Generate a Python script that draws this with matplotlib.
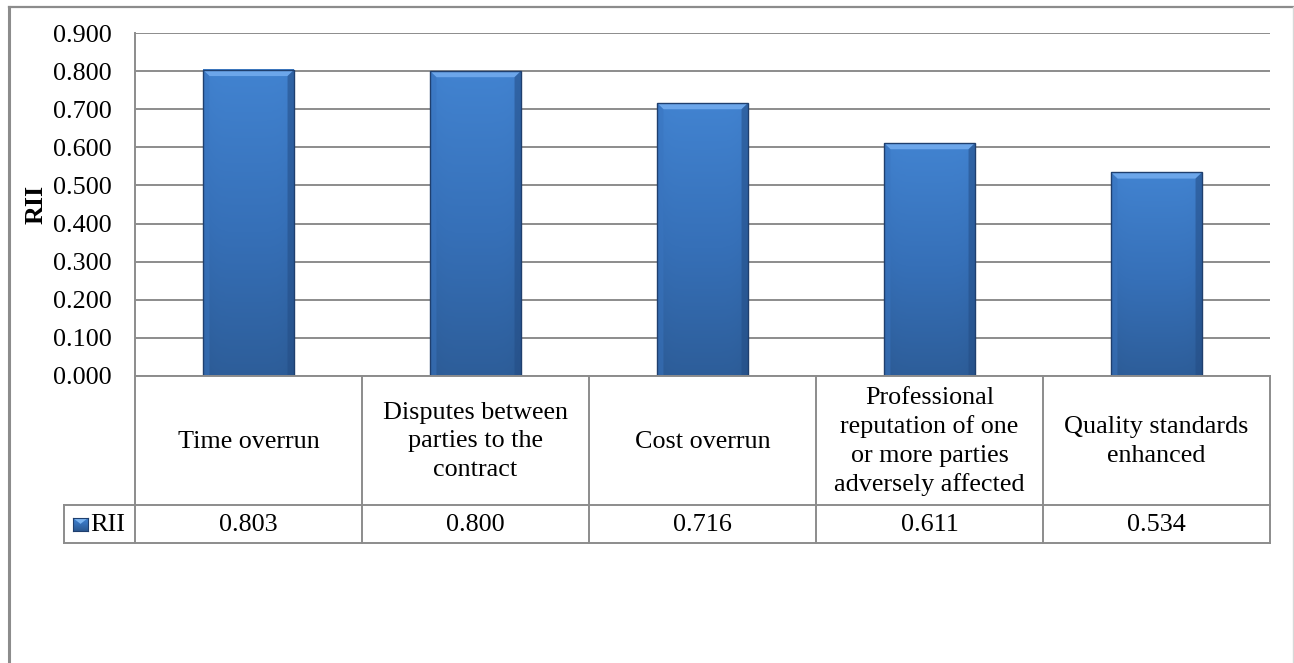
import numpy as np
import matplotlib
matplotlib.use("Agg")
import matplotlib.pyplot as plt
from matplotlib.patches import Rectangle, Polygon
from matplotlib.lines import Line2D
from matplotlib.colors import LinearSegmentedColormap

categories = [
    "Time overrun",
    "Disputes between\nparties to the\ncontract",
    "Cost overrun",
    "Professional\nreputation of one\nor more parties\nadversely affected",
    "Quality standards\nenhanced",
]
rii = [0.803, 0.800, 0.716, 0.611, 0.534]
yticks = [0.0, 0.1, 0.2, 0.3, 0.4, 0.5, 0.6, 0.7, 0.8, 0.9]
series_name = "RII"

plt.rcParams["font.family"] = ["Liberation Serif", "DejaVu Serif"]
FS = 18.8

W, H = 1294, 663
fig = plt.figure(figsize=(W / 100, H / 100), dpi=100)

# plot area in pixel coordinates
px_l, px_r, px_t, px_b = 135, 1270, 33, 376
ax = fig.add_axes([px_l / W, 1 - px_b / H, (px_r - px_l) / W, (px_b - px_t) / H])

n = len(categories)
ax.set_xlim(-0.5, n - 0.5)
ax.set_ylim(0, 0.9)
ax.set_yticks(yticks)
ax.set_yticklabels([f"{v:.3f}" for v in yticks], fontsize=FS)
ax.set_xticks([])
ax.tick_params(axis="y", length=0, pad=17)
ax.yaxis.grid(True, color="#8c8c8c", linewidth=1.4)
ax.set_axisbelow(True)
for s in ["top", "right", "bottom"]:
    ax.spines[s].set_visible(False)
ax.spines["left"].set_color("#8c8c8c")
ax.spines["left"].set_linewidth(1.4)
ax.set_ylabel("RII", fontsize=FS, fontweight="bold", labelpad=4)

# gradient for bar bodies
body_cmap = LinearSegmentedColormap.from_list(
    "body", ["#2b5992", "#3670b8", "#4385d3"])
bar_w = 0.40
bev_x = 0.028
bev_y = 0.016
for i, v in enumerate(rii):
    x0, x1 = i - bar_w / 2, i + bar_w / 2
    yy = np.linspace(0, 1, 200)[:, None]
    xx = np.linspace(-1, 1, 60)[None, :]
    shade = yy * 0.85 + 0.1 - 0.10 * xx ** 6
    ax.imshow(shade, extent=(x0, x1, 0, v), origin="lower", aspect="auto",
              cmap=body_cmap, vmin=0, vmax=1, zorder=2, interpolation="bilinear")
    # bevelled top and sides
    ax.add_patch(Polygon([(x0, v), (x1, v), (x1 - bev_x, v - bev_y), (x0 + bev_x, v - bev_y)],
                         closed=True, facecolor="#6ca6ea", edgecolor="none", zorder=3))
    ax.add_patch(Polygon([(x0, v), (x0 + bev_x, v - bev_y), (x0 + bev_x, 0), (x0, 0)],
                         closed=True, facecolor="#3a75c0", edgecolor="none", alpha=0.5, zorder=3))
    ax.add_patch(Polygon([(x1, v), (x1 - bev_x, v - bev_y), (x1 - bev_x, 0), (x1, 0)],
                         closed=True, facecolor="#244d85", edgecolor="none", alpha=0.55, zorder=3))
    ax.add_patch(Rectangle((x0, 0), bar_w, v, facecolor="none",
                           edgecolor="#1f3f6e", linewidth=1.0, zorder=4))

ax.set_xlim(-0.5, n - 0.5)
ax.set_ylim(0, 0.9)

# data table under the plot, drawn in figure pixel coordinates
def fx(px):
    return px / W

def fy(py):
    return 1 - py / H

grid_kw = dict(color="#8c8c8c", linewidth=1.4, transform=fig.transFigure)
row1_b, row2_b = 505, 543
leg_l = 64
col_w = (px_r - px_l) / n
cols = [px_l + k * col_w for k in range(n + 1)]

fig.add_artist(Line2D([fx(px_l), fx(px_r)], [fy(px_b), fy(px_b)], **grid_kw))
fig.add_artist(Line2D([fx(leg_l), fx(px_r)], [fy(row1_b), fy(row1_b)], **grid_kw))
fig.add_artist(Line2D([fx(leg_l), fx(px_r)], [fy(row2_b), fy(row2_b)], **grid_kw))
fig.add_artist(Line2D([fx(leg_l), fx(leg_l)], [fy(row1_b), fy(row2_b)], **grid_kw))
for c in cols:
    fig.add_artist(Line2D([fx(c), fx(c)], [fy(px_b), fy(row2_b)], **grid_kw))

for k, (cat, v) in enumerate(zip(categories, rii)):
    cx = (cols[k] + cols[k + 1]) / 2
    fig.text(fx(cx), fy((px_b + row1_b) / 2 + 1), cat, ha="center", va="center",
             fontsize=FS, linespacing=1.36)
    fig.text(fx(cx), fy((row1_b + row2_b) / 2 + 1), f"{v:.3f}", ha="center",
             va="center", fontsize=FS)

# legend key in the first cell of the value row
key_ax = fig.add_axes([fx(73), fy(531), fx(88) - fx(73), fy(518) - fy(531)])
key_ax.imshow(np.linspace(0, 1, 20)[:, None], cmap=body_cmap, origin="lower",
              aspect="auto", extent=(0, 1, 0, 1))
key_ax.add_patch(Polygon([(0, 1), (1, 1), (0.5, 0.55)], closed=True,
                         facecolor="#7ab3f0", edgecolor="none"))
key_ax.set_xticks([]); key_ax.set_yticks([])
for s in key_ax.spines.values():
    s.set_color("#1f3f6e"); s.set_linewidth(0.8)
fig.text(fx(90), fy((row1_b + row2_b) / 2 + 1), series_name, ha="left",
         va="center", fontsize=FS)

# outer chart frame
fig.add_artist(Line2D([fx(9), fx(9)], [fy(7), 0], color="#8c8c8c", linewidth=2.2,
                      transform=fig.transFigure))
fig.add_artist(Line2D([fx(9), fx(1293)], [fy(7), fy(7)], color="#8c8c8c", linewidth=1.6,
                      transform=fig.transFigure))
fig.add_artist(Line2D([fx(1293), fx(1293)], [fy(7), 0], color="#d8d8d8", linewidth=1.0,
                      transform=fig.transFigure))

fig.savefig("out.png", dpi=100, facecolor="white")
